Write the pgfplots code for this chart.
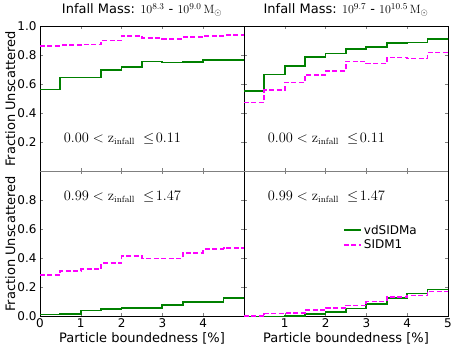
\documentclass[border=0pt]{standalone}
\usepackage{pgfplots}
\pgfplotsset{compat=1.18}
\usepgfplotslibrary{groupplots}
\usepackage[no-math]{fontspec}
\setmainfont{DejaVu Sans}

\definecolor{mplgreen}{rgb}{0,0.5,0}
\definecolor{mplmagenta}{rgb}{1,0,1}

\pgfplotsset{
  panel/.style={
    scale only axis, width=204pt, height=145pt,
    xmin=0, xmax=5, ymin=0, ymax=1,
    xtick={0,1,2,3,4,5}, ytick={0,0.2,0.4,0.6,0.8,1.0},
    tick align=inside, major tick length=3pt,
    tick label style={font=\fontsize{12}{14}\selectfont},
    xticklabel style={yshift=1pt},
    label style={font=\fontsize{13}{15}\selectfont},
    title style={font=\fontsize{13}{15}\selectfont, at={(axis description cs:0.5,1)}, anchor=base, yshift=7pt},
    xlabel style={at={(axis description cs:0.5,0)}, anchor=base, yshift=-26pt},
    ylabel style={at={(axis description cs:-0.1225,0.5)}, anchor=base},
  },
  vd/.style={mplgreen, line width=1.8pt, const plot},
  si/.style={mplmagenta, line width=1.8pt, const plot, dash pattern=on 5pt off 2.5pt},
}

\begin{document}
\begin{tikzpicture}
\begin{groupplot}[
  group style={group size=2 by 2, horizontal sep=0pt, vertical sep=0pt, group name=group},
  panel,
]
% top left
\nextgroupplot[title={Infall Mass: $10^{8.3}$ - $10^{9.0}\,\mathrm{M}_\odot$},
  ylabel={Fraction Unscattered}, xticklabels={}, yticklabels={,0.2,0.4,0.6,0.8,1.0}]
\addplot[vd] coordinates {(0,0.566)(0.5,0.648)(1,0.648)(1.5,0.70)(2,0.722)(2.5,0.759)(3,0.752)(3.5,0.754)(4,0.768)(4.5,0.768)(5,0.768)};
\addplot[si] coordinates {(0,0.867)(0.5,0.871)(1,0.876)(1.5,0.903)(2,0.936)(2.5,0.922)(3,0.915)(3.5,0.926)(4,0.933)(4.5,0.94)(5,0.94)};
\node[anchor=base west, font=\fontsize{13.5}{15}\selectfont] at (axis cs:0.5,0.2) {$0.00 < \mathrm{z}_{\mathrm{infall}}\;\leq\!0.11$};

% top right
\nextgroupplot[title={Infall Mass: $10^{9.7}$ - $10^{10.5}\,\mathrm{M}_\odot$},
  xticklabels={}, yticklabels={}]
\addplot[vd] coordinates {(0,0.554)(0.5,0.669)(1,0.726)(1.5,0.788)(2,0.814)(2.5,0.844)(3,0.860)(3.5,0.885)(4,0.89)(4.5,0.915)(5,0.915)};
\addplot[si] coordinates {(0,0.476)(0.5,0.561)(1,0.614)(1.5,0.667)(2,0.694)(2.5,0.759)(3,0.745)(3.5,0.786)(4,0.779)(4.5,0.821)(5,0.821)};
\node[anchor=base west, font=\fontsize{13.5}{15}\selectfont] at (axis cs:0.5,0.2) {$0.00 < \mathrm{z}_{\mathrm{infall}}\;\leq\!0.11$};

% bottom left
\nextgroupplot[xlabel={Particle boundedness [\%]}, ylabel={Fraction Unscattered},
  xticklabels={0,1,2,3,4,}, yticklabels={0.0,0.2,0.4,0.6,0.8,}]
\addplot[vd] coordinates {(0,0.014)(0.5,0.018)(1,0.041)(1.5,0.053)(2,0.06)(2.5,0.057)(3,0.08)(3.5,0.10)(4,0.098)(4.5,0.13)(5,0.13)};
\addplot[si] coordinates {(0,0.285)(0.5,0.316)(1,0.326)(1.5,0.367)(2,0.415)(2.5,0.40)(3,0.40)(3.5,0.44)(4,0.463)(4.5,0.47)(5,0.47)};
\node[anchor=base west, font=\fontsize{13.5}{15}\selectfont] at (axis cs:0.5,0.8) {$0.99 < \mathrm{z}_{\mathrm{infall}}\;\leq\!1.47$};

% bottom right
\nextgroupplot[xlabel={Particle boundedness [\%]},
  xticklabels={,1,2,3,4,5}, yticklabels={},
  legend style={at={(axis description cs:0.47,0.66)}, anchor=north west, draw=none, fill=none,
    font=\fontsize{12}{14}\selectfont, row sep=0pt},
  legend cell align=left]
\addplot[vd] coordinates {(0,0.0)(0.5,0.0)(1,0.005)(1.5,0.018)(2,0.032)(2.5,0.055)(3,0.087)(3.5,0.13)(4,0.158)(4.5,0.186)(5,0.186)};
\addlegendentry{vdSIDMa}
\addplot[si] coordinates {(0,0.002)(0.5,0.02)(1,0.023)(1.5,0.044)(2,0.06)(2.5,0.076)(3,0.103)(3.5,0.135)(4,0.145)(4.5,0.172)(5,0.172)};
\addlegendentry{SIDM1}
\node[anchor=base west, font=\fontsize{13.5}{15}\selectfont] at (axis cs:0.5,0.8) {$0.99 < \mathrm{z}_{\mathrm{infall}}\;\leq\!1.47$};
\end{groupplot}
\draw[black!50, line width=1.3pt] (group c1r1.south west) -- (group c2r1.south east);
\path[use as bounding box] (group c1r1.north west) ++(-40pt,23pt) rectangle ++(457pt,-348pt);
\end{tikzpicture}
\end{document}
